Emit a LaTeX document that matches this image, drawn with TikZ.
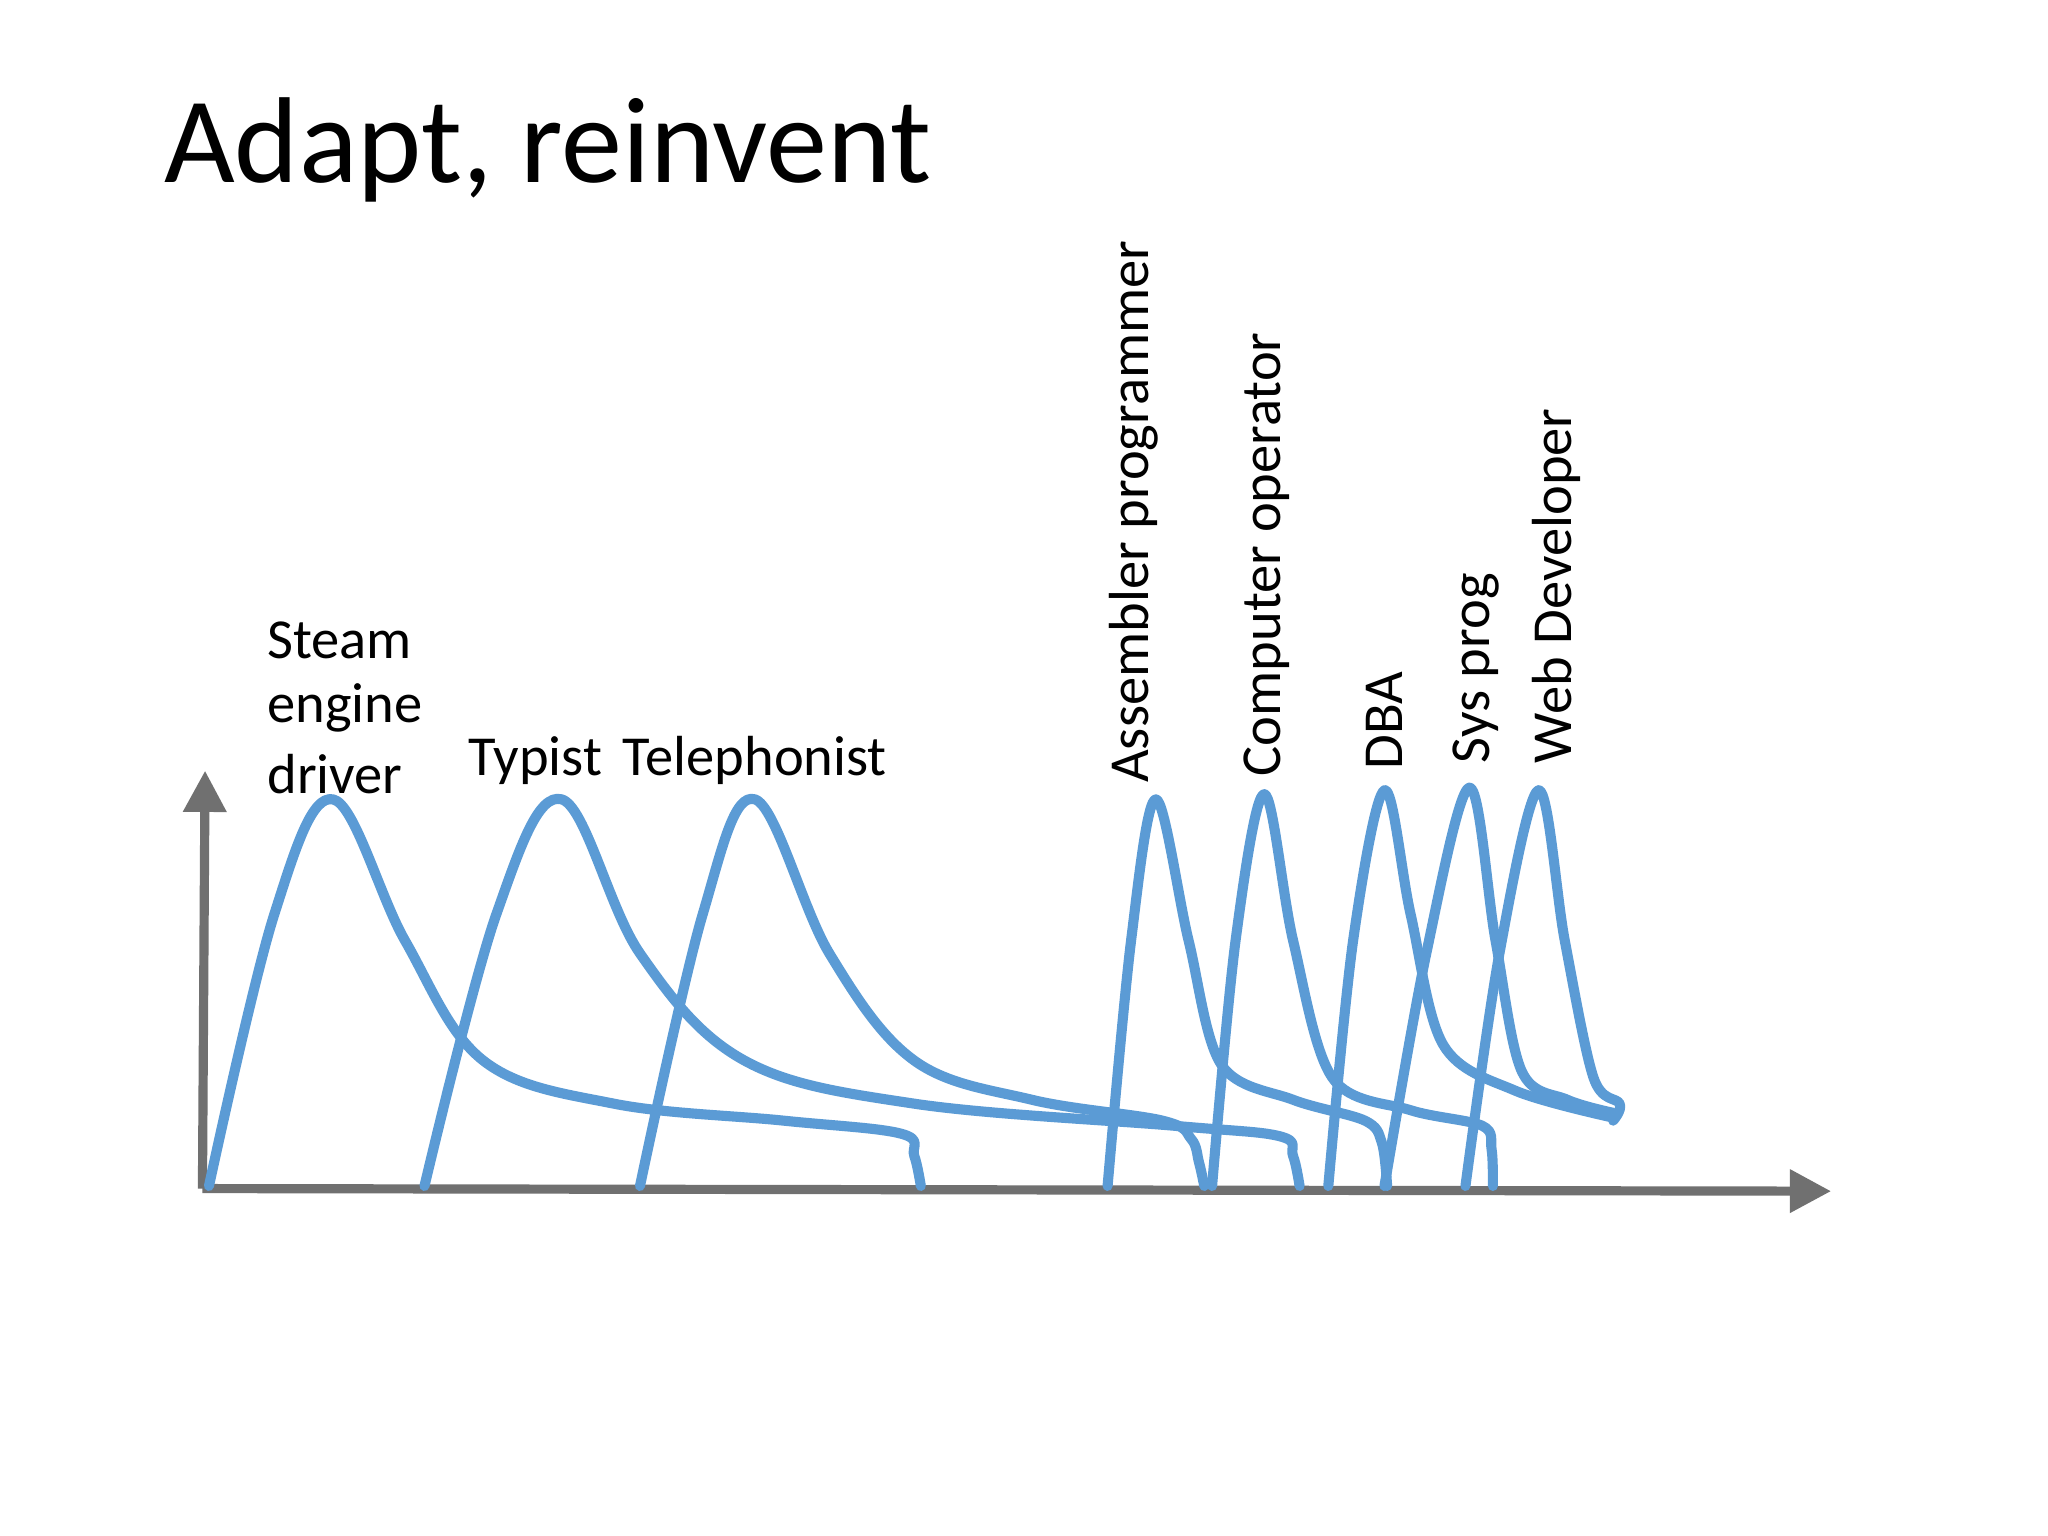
\documentclass[tikz,border=0pt]{standalone}
\usepackage{fontspec}
\setmainfont{Carlito}
\begin{document}
\begin{tikzpicture}[x=0.01cm,y=-0.01cm,
  axis/.style={draw=axgray,line width=2pt,-{Triangle[length=9pt,width=9pt]}},
  curve/.style={draw=curveblue,line width=2.2pt,line cap=round,line join=round},
  lbl/.style={font=\fontsize{12.3}{14}\selectfont,inner sep=0pt},
  rlbl/.style={font=\fontsize{12.3}{14}\selectfont,inner sep=0pt,rotate=90,anchor=west}]
\definecolor{axgray}{RGB}{112,112,112}
\definecolor{curveblue}{RGB}{91,155,213}
\usetikzlibrary{arrows.meta}
\useasboundingbox[fill=white] (0,0) rectangle (1568,1176);
\node[anchor=base west,inner sep=0pt,font=\fontsize{26.6}{30}\selectfont] (title) at (125,140) {Adapt, reinvent};
\coordinate (o) at (155,910);
\coordinate (ytop) at (157,590);
\coordinate (xend) at (1402,912);
\draw[axis] (o) -- (ytop);
\draw[axis] (o) -- (xend);
% curves
\draw[curve] plot[smooth,tension=0.6] coordinates{(160,908) (210,700) (255,612) (310,720) (370,812) (470,845) (600,858) (690,868) (700,885) (705,908)};
\draw[curve] plot[smooth,tension=0.6] coordinates{(325,908) (380,700) (430,612) (490,730) (570,812) (700,845) (900,862) (980,870) (990,885) (995,908)};
\draw[curve] plot[smooth,tension=0.6] coordinates{(490,908) (538,700) (578,612) (635,730) (700,812) (790,842) (890,858) (912,872) (918,890) (922,908)};
\draw[curve] plot[smooth,tension=0.55] coordinates{(848,908) (866,720) (885,612) (910,720) (935,815) (990,842) (1045,858) (1058,875) (1062,908)};
\draw[curve] plot[smooth,tension=0.55] coordinates{(928,908) (946,720) (968,608) (990,720) (1020,825) (1080,850) (1135,862) (1142,880) (1143,908)};
\draw[curve] plot[smooth,tension=0.55] coordinates{(1017,908) (1036,720) (1060,605) (1080,700) (1105,800) (1160,835) (1232,855)};
\draw[curve] plot[smooth,tension=0.55] coordinates{(1060,908) (1092,730) (1125,603) (1145,720) (1165,820) (1200,842) (1235,852)};
\draw[curve] plot[smooth,tension=0.55] coordinates{(1122,908) (1148,730) (1178,605) (1198,720) (1220,825) (1240,845) (1235,858)};
% labels
\node[lbl,anchor=west] (steam) at (204,490) {Steam};
\node[lbl,anchor=west] (engine) at (204,542) {engine};
\node[lbl,anchor=west] (driver) at (204,593) {driver};
\node[lbl] (typist) at (410,582) {Typist};
\node[lbl] (tel) at (578,582) {Telephonist};
\node[rlbl] (asm) at (868,600) {Assembler programmer};
\node[rlbl] (cop) at (970,595) {Computer operator};
\node[rlbl] (dba) at (1060,590) {DBA};
\node[rlbl] (sys) at (1130,585) {Sys prog};
\node[rlbl] (web) at (1192,585) {Web Developer};
\end{tikzpicture}
\end{document}
